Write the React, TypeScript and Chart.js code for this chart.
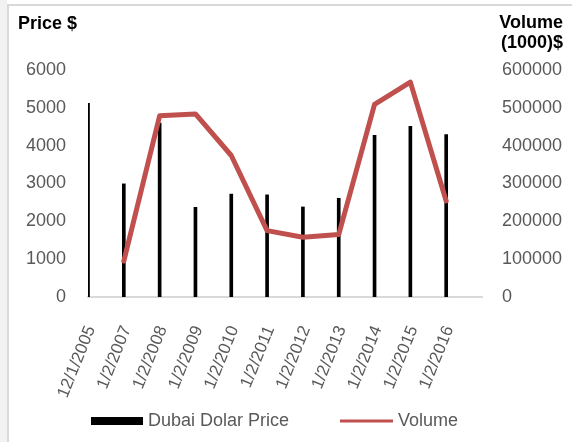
import React, { useEffect, useRef } from "react";
import { Chart, registerables } from "chart.js";

Chart.register(...registerables);

const categories = [
  "12/1/2005", "1/2/2007", "1/2/2008", "1/2/2009", "1/2/2010", "1/2/2011",
  "1/2/2012", "1/2/2013", "1/2/2014", "1/2/2015", "1/2/2016", "",
];
const priceValues = [5120, 2990, 4600, 2370, 2720, 2700, 2380, 2610, 4270, 4510, 4290, null];
const volumeValues = [null, 95000, 479000, 484000, 374000, 175500, 158000, 165000, 509000, 568000, 254000, null];
const leftTitle = "Price $";
const rightTitle = ["Volume", "(1000)$"];
const legendLabels = ["Dubai Dolar Price", "Volume"];

const FONT = "'Liberation Sans', Arial, sans-serif";
const RED = "#c0504d";
const GRAY = "#595959";

const decorPlugin = {
  id: "decor",
  afterDraw(chart: any) {
    const ctx = chart.ctx;
    ctx.save();
    // axis titles
    ctx.fillStyle = "#000";
    ctx.font = `bold 18px ${FONT}`;
    ctx.textBaseline = "alphabetic";
    ctx.textAlign = "left";
    ctx.fillText(leftTitle, 18, 29);
    ctx.textAlign = "right";
    ctx.fillText(rightTitle[0], 563, 28);
    ctx.fillText(rightTitle[1], 563, 48);
    // legend
    const cy = 421;
    ctx.font = `18px ${FONT}`;
    ctx.textAlign = "left";
    ctx.textBaseline = "middle";
    ctx.fillStyle = "#000";
    ctx.fillRect(91, cy - 4, 52, 8);
    ctx.fillStyle = GRAY;
    ctx.fillText(legendLabels[0], 148, cy);
    ctx.strokeStyle = RED;
    ctx.lineWidth = 3;
    ctx.beginPath();
    ctx.moveTo(340, cy);
    ctx.lineTo(393, cy);
    ctx.stroke();
    ctx.fillText(legendLabels[1], 398, cy);
    ctx.restore();
  },
};

export default function App() {
  const ref = useRef<HTMLCanvasElement>(null);
  useEffect(() => {
    const chart = new Chart(ref.current!, {
      type: "bar",
      data: {
        labels: categories,
        datasets: [
          {
            type: "line",
            label: legendLabels[1],
            data: volumeValues,
            yAxisID: "y1",
            borderColor: RED,
            backgroundColor: RED,
            borderWidth: 5,
            pointRadius: 0,
            tension: 0,
            borderJoinStyle: "round",
            borderCapStyle: "round",
            order: 1,
          } as any,
          {
            type: "bar",
            label: legendLabels[0],
            data: priceValues,
            yAxisID: "y",
            backgroundColor: "#000",
            barThickness: 3,
            order: 2,
          },
        ],
      },
      options: {
        animation: false,
        responsive: false,
        layout: { padding: { top: 70, left: 0, right: 0, bottom: 0 } },
        plugins: {
          tooltip: { enabled: false },
          legend: { display: false },
        },
        scales: {
          x: {
            type: "category",
            offset: false,
            grid: { display: false, offset: false, drawTicks: false },
            border: { display: true, color: "#d9d9d9", width: 2 },
            ticks: {
              autoSkip: false,
              maxRotation: 68,
              minRotation: 68,
              font: { family: FONT, size: 17 },
              color: GRAY,
              padding: 26,
              labelOffset: 3,
            },
            afterFit: (s: any) => { s.height = 145; },
          },
          y: {
            position: "left",
            min: 0,
            max: 6000,
            ticks: {
              stepSize: 1000,
              font: { family: FONT, size: 18 },
              color: GRAY,
              padding: 22,
              callback: (v: any) => String(v),
            },
            grid: { display: false, drawTicks: false },
            border: { display: false },
            afterFit: (s: any) => { s.width = 88; },
          },
          y1: {
            position: "right",
            min: 0,
            max: 600000,
            ticks: {
              stepSize: 100000,
              font: { family: FONT, size: 18 },
              color: GRAY,
              padding: 20,
              callback: (v: any) => String(v),
            },
            grid: { display: false, drawTicks: false },
            border: { display: false },
            afterFit: (s: any) => { s.width = 90; },
          },
        },
      },
      plugins: [decorPlugin],
    });
    return () => chart.destroy();
  }, []);

  return (
    <div style={{ position: "fixed", left: 0, top: 0, width: 572, height: 442, background: "#fff", overflow: "hidden" }}>
      <div style={{ position: "absolute", left: 0, top: 0, width: 7, height: 442, background: "#f2f2f2" }} />
      <div style={{ position: "absolute", left: 7, top: 4, width: 600, height: 600, border: "2px solid #d9d9d9", boxSizing: "border-box" }} />
      <canvas ref={ref} width={572} height={442} style={{ position: "absolute", left: 0, top: 0 }} />
    </div>
  );
}
